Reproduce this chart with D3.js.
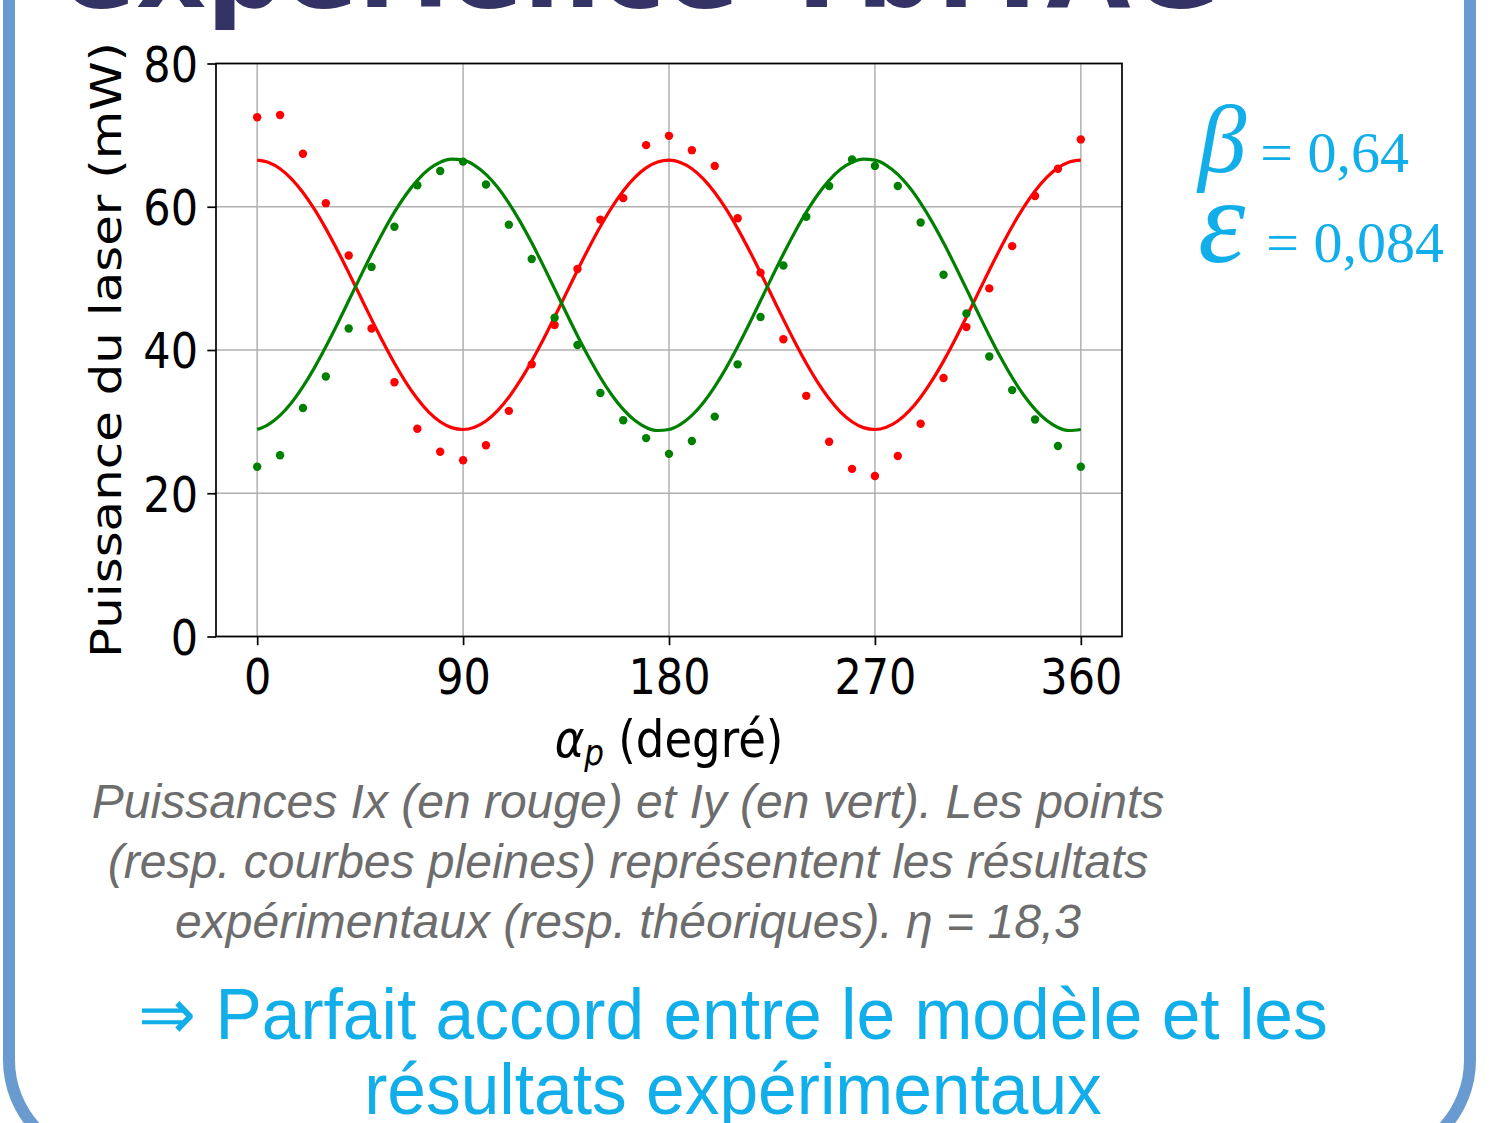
<!DOCTYPE html>
<html>
<head>
<meta charset="utf-8">
<script src="https://cdn.jsdelivr.net/npm/d3@7"></script>
<style>
  html, body { margin: 0; padding: 0; background: #ffffff; }
  svg { display: block; }
</style>
</head>
<body>
<svg id="chart" width="1497" height="1123"></svg>
<script>
// ---------------- data ----------------
const pointAngles = d3.range(0, 361, 10);
const fitAngles = d3.range(0, 361, 5);

// experimental points, Ix (red) and Iy (green), mW
const redPoints = [72.5,72.8,67.4,60.5,53.2,43.0,35.5,29.0,25.8,24.6,26.7,31.5,38.0,43.5,51.3,58.2,61.2,68.6,69.9,
                   67.9,65.7,58.4,50.8,41.5,33.6,27.2,23.4,22.4,25.2,29.7,36.1,43.2,48.6,54.5,61.5,65.3,69.4];
const greenPoints = [23.7,25.3,31.9,36.3,43.0,51.6,57.2,63.0,65.0,66.3,63.1,57.5,52.7,44.5,40.7,34.0,30.2,27.7,25.5,
                     27.3,30.7,38.0,44.6,51.8,58.6,62.9,66.6,65.7,62.9,57.8,50.5,45.1,39.1,34.4,30.3,26.6,23.7];

// theoretical curves (read every 5 degrees)
const redFit = [66.50,66.18,65.31,63.90,61.99,59.66,56.95,53.97,50.80,47.53,44.27,41.11,38.15,35.49,33.19,31.33,29.98,29.16,
                28.90,29.22,30.09,31.50,33.41,35.75,38.45,41.43,44.60,47.87,51.13,54.29,57.25,59.92,62.21,64.07,65.42,66.24,
                66.50,66.18,65.31,63.90,61.99,59.66,56.95,53.97,50.80,47.53,44.27,41.11,38.15,35.49,33.19,31.33,29.98,29.16,
                28.90,29.22,30.09,31.50,33.41,35.75,38.45,41.43,44.60,47.87,51.13,54.29,57.25,59.92,62.21,64.07,65.42,66.24,
                66.50];
const greenFit = [28.90,29.62,30.88,32.65,34.89,37.51,40.44,43.59,46.87,50.17,53.40,56.45,59.24,61.68,63.69,65.22,66.21,66.64,
                  66.50,65.79,64.52,62.75,60.51,57.89,54.96,51.81,48.53,45.23,42.00,38.95,36.16,33.72,31.71,30.18,29.19,28.76,
                  28.90,29.62,30.88,32.65,34.89,37.51,40.44,43.59,46.87,50.17,53.40,56.45,59.24,61.68,63.69,65.22,66.21,66.64,
                  66.50,65.79,64.52,62.75,60.51,57.89,54.96,51.81,48.53,45.23,42.00,38.95,36.16,33.72,31.71,30.18,29.19,28.76,
                  28.90];

const xTicks = [0, 90, 180, 270, 360];
const yTicks = [0, 20, 40, 60, 80];
const xTickLabels = ["0", "90", "180", "270", "360"];
const yTickLabels = ["0", "20", "40", "60", "80"];

const titleText = "expérience Yb:YAG";
const yLabel = "Puissance du laser (mW)";
const captionLines = [
  "Puissances Ix (en rouge) et Iy (en vert). Les points",
  "(resp. courbes pleines) représentent les résultats",
  "expérimentaux (resp. théoriques). η = 18,3"
];
const conclusionLines = ["⇒ Parfait accord entre le modèle et les", "résultats expérimentaux"];
const paramBeta = "= 0,64";
const paramEps = "= 0,084";

// ---------------- drawing ----------------
const svg = d3.select("#chart");
const VS = 1.16; // vertical stretch of the embedded figure

// slide frame
svg.append("rect")
  .attr("x", 9).attr("y", -300)
  .attr("width", 1461).attr("height", 1460)
  .attr("rx", 100).attr("ry", 100)
  .attr("fill", "none")
  .attr("stroke", "#6a9bd0")
  .attr("stroke-width", 12);

// title (mostly cut off)
svg.append("text")
  .attr("x", 62).attr("y", 7)
  .attr("font-family", "DejaVu Sans")
  .attr("font-weight", "bold")
  .attr("font-size", 109)
  .attr("fill", "#333366")
  .text(titleText);

const L = 216, R = 1122, T = 63.5, B = 636.5;
const x = d3.scaleLinear().domain([-18, 378]).range([L, R]);
const y = d3.scaleLinear().domain([0, 80]).range([B, T]);

const plot = svg.append("g");

// grid
plot.append("g").selectAll("line").data(xTicks).join("line")
  .attr("x1", d => x(d)).attr("x2", d => x(d))
  .attr("y1", T).attr("y2", B)
  .attr("stroke", "#b0b0b0").attr("stroke-width", 1.5);
plot.append("g").selectAll("line").data(yTicks).join("line")
  .attr("x1", L).attr("x2", R)
  .attr("y1", d => y(d)).attr("y2", d => y(d))
  .attr("stroke", "#b0b0b0").attr("stroke-width", 1.5);

// curves
const line = d3.line()
  .x((d, i) => x(fitAngles[i]))
  .y(d => y(d))
  .curve(d3.curveMonotoneX);
plot.append("path").datum(redFit).attr("d", line)
  .attr("fill", "none").attr("stroke", "#ff0000").attr("stroke-width", 3.2);
plot.append("path").datum(greenFit).attr("d", line)
  .attr("fill", "none").attr("stroke", "#008000").attr("stroke-width", 3.2);

// points
plot.append("g").selectAll("circle").data(redPoints).join("circle")
  .attr("cx", (d, i) => x(pointAngles[i])).attr("cy", d => y(d))
  .attr("r", 4.2).attr("fill", "#ff0000");
plot.append("g").selectAll("circle").data(greenPoints).join("circle")
  .attr("cx", (d, i) => x(pointAngles[i])).attr("cy", d => y(d))
  .attr("r", 4.2).attr("fill", "#008000");

// frame
plot.append("rect")
  .attr("x", L).attr("y", T).attr("width", R - L).attr("height", B - T)
  .attr("fill", "none").attr("stroke", "#000").attr("stroke-width", 1.7);

// axes
const xAxis = d3.axisBottom(x).tickValues(xTicks)
  .tickFormat((d, i) => xTickLabels[i]).tickSize(8.7).tickSizeOuter(0);
const yAxis = d3.axisLeft(y).tickValues(yTicks)
  .tickFormat((d, i) => yTickLabels[i]).tickSize(8.7).tickSizeOuter(0);

const gx = svg.append("g").attr("transform", `translate(0,${B})`).call(xAxis);
const gy = svg.append("g").attr("transform", `translate(${L},0)`).call(yAxis);
[gx, gy].forEach(g => {
  g.select(".domain").remove();
  g.selectAll(".tick line").attr("stroke", "#000").attr("stroke-width", 1.7);
  g.selectAll(".tick text")
    .attr("font-family", "DejaVu Sans").attr("font-size", 43).attr("fill", "#000");
});
gx.selectAll(".tick text")
  .attr("dy", null)
  .attr("y", 57.5 / VS)
  .attr("transform", `scale(1,${VS})`);
gy.selectAll(".tick text")
  .attr("x", -18).attr("dy", "0.36em")
  .attr("transform", `scale(1,${VS})`);

// y label
svg.append("text")
  .attr("transform", `translate(121,${(T + B) / 2}) scale(1,${VS}) rotate(-90)`)
  .attr("text-anchor", "middle")
  .attr("font-family", "DejaVu Sans").attr("font-size", 43).attr("fill", "#000")
  .text(yLabel);

// x label
const xl = svg.append("text")
  .attr("transform", `translate(${(L + R) / 2},757) scale(1,${VS})`)
  .attr("text-anchor", "middle")
  .attr("font-family", "DejaVu Sans").attr("font-size", 45).attr("fill", "#000");
xl.append("tspan").attr("font-style", "italic").text("α");
xl.append("tspan").attr("font-style", "italic").attr("font-size", 31).attr("dy", 7).text("p");
xl.append("tspan").attr("dy", -7).text(" (degré)");

// caption
svg.append("g").selectAll("text").data(captionLines).join("text")
  .attr("x", 628).attr("y", (d, i) => 818 + i * 60)
  .attr("text-anchor", "middle")
  .attr("font-family", "Liberation Sans").attr("font-style", "italic")
  .attr("font-size", 48).attr("fill", "#6d6d6d")
  .text(d => d);

// conclusion
svg.append("g").selectAll("text").data(conclusionLines).join("text")
  .attr("transform", (d, i) => `translate(733,${1039 + i * 75}) scale(1,1.04)`)
  .attr("text-anchor", "middle")
  .attr("font-family", "Liberation Sans")
  .attr("font-size", 69.5).attr("fill", "#12aeea")
  .text(d => d);

// parameters
const pb = svg.append("text").attr("x", 1198).attr("y", 172)
  .attr("font-family", "Liberation Serif").attr("fill", "#12aeea");
pb.append("tspan").attr("font-style", "italic").attr("font-size", 97).text("β");
pb.append("tspan").attr("font-size", 58).attr("dx", 14).text(paramBeta);

const pe = svg.append("text").attr("x", 1198).attr("y", 262)
  .attr("font-family", "Liberation Serif").attr("fill", "#12aeea");
pe.append("tspan").attr("font-style", "italic").attr("font-size", 120).text("ε");
pe.append("tspan").attr("font-size", 58).attr("dx", 21).text(paramEps);
</script>
</body>
</html>
